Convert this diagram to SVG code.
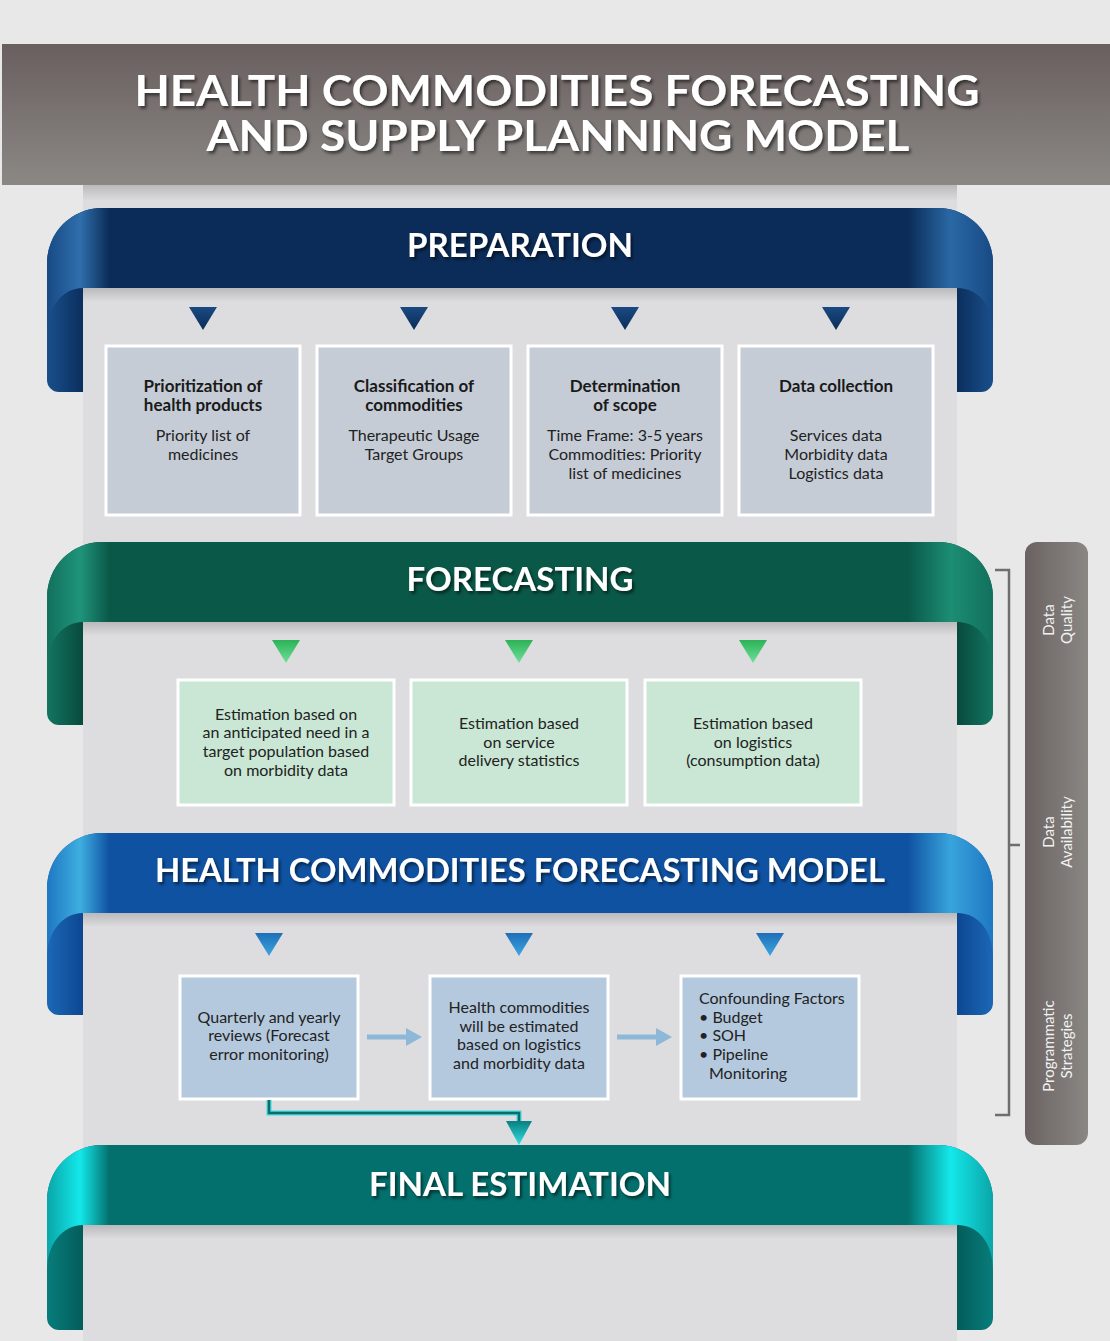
<svg xmlns="http://www.w3.org/2000/svg" width="1110" height="1341" viewBox="0 0 1110 1341">
<defs>
<style>
.ttl{font-family:Lato,"Open Sans","Liberation Sans",sans-serif;font-weight:700;fill:#fff;text-anchor:middle;}
.bt{font-family:Lato,"Open Sans","Liberation Sans",sans-serif;font-weight:700;font-size:17px;fill:#1a1a1a;text-anchor:middle;}
.bx{font-family:Lato,"Open Sans","Liberation Sans",sans-serif;font-size:16px;fill:#222;text-anchor:middle;}
.bl{font-family:Lato,"Open Sans","Liberation Sans",sans-serif;font-size:16px;fill:#222;text-anchor:start;}
.side{font-family:Lato,"Open Sans","Liberation Sans",sans-serif;font-size:15px;fill:#f2f2f2;text-anchor:middle;}
.prepbox{fill:#c5ccd6;stroke:#fff;stroke-width:3;}
.fcbox{fill:#c9e7d4;stroke:#fff;stroke-width:3;}
.hmbox{fill:#b4c9de;stroke:#fff;stroke-width:3;}
.brk{fill:none;stroke:#6e6e6e;stroke-width:2.5;}
</style>
<filter id="ts" x="-5%" y="-20%" width="110%" height="150%">
<feDropShadow dx="2" dy="2.5" stdDeviation="1.5" flood-color="#000" flood-opacity="0.55"/>
</filter>
<linearGradient id="hdr" x1="0" y1="0" x2="0" y2="1"><stop offset="0" stop-color="#695f5f"/><stop offset="1" stop-color="#8b8884"/></linearGradient>
<linearGradient id="sideg" x1="0" y1="0" x2="1" y2="0"><stop offset="0" stop-color="#6a6262"/><stop offset="1" stop-color="#8a8783"/></linearGradient>
<linearGradient id="shv" x1="0" y1="0" x2="0" y2="1"><stop offset="0" stop-color="#000" stop-opacity="0.16"/><stop offset="1" stop-color="#000" stop-opacity="0"/></linearGradient>
<linearGradient id="pF" x1="0" y1="0" x2="1" y2="0"><stop offset="0" stop-color="#174a85"/><stop offset="0.035" stop-color="#2f6fac"/><stop offset="0.066" stop-color="#0b2c58"/><stop offset="0.91" stop-color="#0b2c58"/><stop offset="0.955" stop-color="#2a68a4"/><stop offset="1" stop-color="#174a85"/></linearGradient>
<linearGradient id="pS" x1="0" y1="0" x2="1" y2="0"><stop offset="0" stop-color="#1a4f8b"/><stop offset="0.038" stop-color="#0b2f5e"/><stop offset="0.962" stop-color="#0b2f5e"/><stop offset="1" stop-color="#1a4f8b"/></linearGradient>
<linearGradient id="fF" x1="0" y1="0" x2="1" y2="0"><stop offset="0" stop-color="#12705d"/><stop offset="0.035" stop-color="#1f947a"/><stop offset="0.066" stop-color="#0a5848"/><stop offset="0.91" stop-color="#0a5848"/><stop offset="0.955" stop-color="#1c8d73"/><stop offset="1" stop-color="#12705d"/></linearGradient>
<linearGradient id="fS" x1="0" y1="0" x2="1" y2="0"><stop offset="0" stop-color="#137560"/><stop offset="0.038" stop-color="#084a3d"/><stop offset="0.962" stop-color="#084a3d"/><stop offset="1" stop-color="#137560"/></linearGradient>
<linearGradient id="hF" x1="0" y1="0" x2="1" y2="0"><stop offset="0" stop-color="#1f77c2"/><stop offset="0.035" stop-color="#3eaee0"/><stop offset="0.066" stop-color="#0f52a2"/><stop offset="0.91" stop-color="#0f52a2"/><stop offset="0.955" stop-color="#38a4dc"/><stop offset="1" stop-color="#1f77c2"/></linearGradient>
<linearGradient id="hS" x1="0" y1="0" x2="1" y2="0"><stop offset="0" stop-color="#1c68b6"/><stop offset="0.038" stop-color="#0c4792"/><stop offset="0.962" stop-color="#0c4792"/><stop offset="1" stop-color="#1c68b6"/></linearGradient>
<linearGradient id="eF" x1="0" y1="0" x2="1" y2="0"><stop offset="0" stop-color="#0aa5a8"/><stop offset="0.035" stop-color="#14e8ea"/><stop offset="0.066" stop-color="#03706d"/><stop offset="0.91" stop-color="#03706d"/><stop offset="0.955" stop-color="#14e8ea"/><stop offset="1" stop-color="#0aa5a8"/></linearGradient>
<linearGradient id="eS" x1="0" y1="0" x2="1" y2="0"><stop offset="0" stop-color="#077d7b"/><stop offset="0.038" stop-color="#035c5a"/><stop offset="0.962" stop-color="#035c5a"/><stop offset="1" stop-color="#077d7b"/></linearGradient>
<linearGradient id="tP" x1="0" y1="0" x2="0" y2="1"><stop offset="0" stop-color="#1a4a82"/><stop offset="1" stop-color="#0b2c58"/></linearGradient>
<linearGradient id="tF" x1="0" y1="0" x2="0" y2="1"><stop offset="0" stop-color="#2cb257"/><stop offset="1" stop-color="#6fe09a"/></linearGradient>
<linearGradient id="tH" x1="0" y1="0" x2="0" y2="1"><stop offset="0" stop-color="#1e6fb8"/><stop offset="1" stop-color="#3ea6e0"/></linearGradient>
<linearGradient id="tE" x1="0" y1="0" x2="0" y2="1"><stop offset="0" stop-color="#0a7f7f"/><stop offset="1" stop-color="#2fe0e4"/></linearGradient>
</defs>

<rect x="0" y="0" width="1110" height="1341" fill="#e8e8e8"/>
<g id="panel">
<rect x="83" y="185" width="874" height="1156" fill="#dddde0"/>
<rect x="83" y="185" width="874" height="16" fill="url(#shv)"/>
</g>

<g id="header">
<rect x="2" y="44" width="1108" height="141" fill="url(#hdr)"/>
<text class="ttl" x="557" y="106" font-size="42" textLength="845" lengthAdjust="spacingAndGlyphs" filter="url(#ts)">HEALTH COMMODITIES FORECASTING</text>
<text class="ttl" x="558" y="151" font-size="42" textLength="703" lengthAdjust="spacingAndGlyphs" filter="url(#ts)">AND SUPPLY PLANNING MODEL</text>
</g>

<g id="preparation">
<path d="M102,208 H938 A55 55 0 0 1 993,263 V380 A12 12 0 0 1 981,392 H957 V288 H83 V392 H59 A12 12 0 0 1 47,380 V263 A55 55 0 0 1 102,208 Z" fill="url(#pS)"/>
<path d="M47,333 V263 A55 55 0 0 1 102,208 H938 A55 55 0 0 1 993,263 V333 C993,308 980,288 957,288 H83 C62,288 47,308 47,333 Z" fill="url(#pF)"/>
<rect x="83" y="288" width="874" height="14" fill="url(#shv)"/>
<text class="ttl" x="520" y="257" font-size="32" textLength="226" lengthAdjust="spacingAndGlyphs" filter="url(#ts)">PREPARATION</text>
</g>

<g id="forecasting">
<path d="M102,542 H938 A55 55 0 0 1 993,597 V713 A12 12 0 0 1 981,725 H957 V622 H83 V725 H59 A12 12 0 0 1 47,713 V597 A55 55 0 0 1 102,542 Z" fill="url(#fS)"/>
<path d="M47,667 V597 A55 55 0 0 1 102,542 H938 A55 55 0 0 1 993,597 V667 C993,642 980,622 957,622 H83 C62,622 47,642 47,667 Z" fill="url(#fF)"/>
<rect x="83" y="622" width="874" height="14" fill="url(#shv)"/>
<text class="ttl" x="520" y="591" font-size="32" textLength="227" lengthAdjust="spacingAndGlyphs" filter="url(#ts)">FORECASTING</text>
</g>

<g id="hcfm">
<path d="M102,833 H938 A55 55 0 0 1 993,888 V1003 A12 12 0 0 1 981,1015 H957 V913 H83 V1015 H59 A12 12 0 0 1 47,1003 V888 A55 55 0 0 1 102,833 Z" fill="url(#hS)"/>
<path d="M47,958 V888 A55 55 0 0 1 102,833 H938 A55 55 0 0 1 993,888 V958 C993,933 980,913 957,913 H83 C62,913 47,933 47,958 Z" fill="url(#hF)"/>
<rect x="83" y="913" width="874" height="14" fill="url(#shv)"/>
<text class="ttl" x="520" y="882" font-size="33" textLength="730" lengthAdjust="spacingAndGlyphs" filter="url(#ts)">HEALTH COMMODITIES FORECASTING MODEL</text>
</g>

<g id="final">
<path d="M102,1145 H938 A55 55 0 0 1 993,1200 V1318 A12 12 0 0 1 981,1330 H957 V1225 H83 V1330 H59 A12 12 0 0 1 47,1318 V1200 A55 55 0 0 1 102,1145 Z" fill="url(#eS)"/>
<path d="M47,1270 V1200 A55 55 0 0 1 102,1145 H938 A55 55 0 0 1 993,1200 V1270 C993,1245 980,1225 957,1225 H83 C62,1225 47,1245 47,1270 Z" fill="url(#eF)"/>
<rect x="83" y="1225" width="874" height="14" fill="url(#shv)"/>
<text class="ttl" x="520" y="1196" font-size="32" textLength="302" lengthAdjust="spacingAndGlyphs" filter="url(#ts)">FINAL ESTIMATION</text>
</g>

<g id="prep1"><rect class="prepbox" x="106" y="346" width="194" height="169"/>
<text class="bt" x="203" y="392">Prioritization of</text><text class="bt" x="203" y="411">health products</text>
<text class="bx" x="203" y="441">Priority list of</text><text class="bx" x="203" y="460">medicines</text></g>
<g id="prep2"><rect class="prepbox" x="317" y="346" width="194" height="169"/>
<text class="bt" x="414" y="392">Classification of</text><text class="bt" x="414" y="411">commodities</text>
<text class="bx" x="414" y="441">Therapeutic Usage</text><text class="bx" x="414" y="460">Target Groups</text></g>
<g id="prep3"><rect class="prepbox" x="528" y="346" width="194" height="169"/>
<text class="bt" x="625" y="392">Determination</text><text class="bt" x="625" y="411">of scope</text>
<text class="bx" x="625" y="441">Time Frame: 3-5 years</text><text class="bx" x="625" y="460">Commodities: Priority</text><text class="bx" x="625" y="479">list of medicines</text></g>
<g id="prep4"><rect class="prepbox" x="739" y="346" width="194" height="169"/>
<text class="bt" x="836" y="392">Data collection</text>
<text class="bx" x="836" y="441">Services data</text><text class="bx" x="836" y="460">Morbidity data</text><text class="bx" x="836" y="479">Logistics data</text></g>

<g id="fc1"><rect class="fcbox" x="178" y="680" width="216" height="125"/>
<text class="bx" x="286" y="720">Estimation based on</text><text class="bx" x="286" y="738">an anticipated need in a</text><text class="bx" x="286" y="757">target population based</text><text class="bx" x="286" y="776">on morbidity data</text></g>
<g id="fc2"><rect class="fcbox" x="411" y="680" width="216" height="125"/>
<text class="bx" x="519" y="729">Estimation based</text><text class="bx" x="519" y="748">on service</text><text class="bx" x="519" y="766">delivery statistics</text></g>
<g id="fc3"><rect class="fcbox" x="645" y="680" width="216" height="125"/>
<text class="bx" x="753" y="729">Estimation based</text><text class="bx" x="753" y="748">on logistics</text><text class="bx" x="753" y="766">(consumption data)</text></g>

<g id="hm1"><rect class="hmbox" x="180" y="976" width="178" height="123"/>
<text class="bx" x="269" y="1023">Quarterly and yearly</text><text class="bx" x="269" y="1041">reviews (Forecast</text><text class="bx" x="269" y="1060">error monitoring)</text></g>
<g id="hm2"><rect class="hmbox" x="430" y="976" width="178" height="123"/>
<text class="bx" x="519" y="1013">Health commodities</text><text class="bx" x="519" y="1032">will be estimated</text><text class="bx" x="519" y="1050">based on logistics</text><text class="bx" x="519" y="1069">and morbidity data</text></g>
<g id="hm3"><rect class="hmbox" x="681" y="976" width="178" height="123"/>
<text class="bl" x="699" y="1004">Confounding Factors</text>
<text class="bl" x="699" y="1023">• Budget</text>
<text class="bl" x="699" y="1041">• SOH</text>
<text class="bl" x="699" y="1060">• Pipeline</text>
<text class="bl" x="709" y="1079">Monitoring</text></g>

<g id="sidebar">
<rect x="1025" y="542" width="63" height="603" rx="12" fill="url(#sideg)"/>
<text class="side" transform="translate(1058,620) rotate(-90)"><tspan x="0" y="-4">Data</tspan><tspan x="0" y="14">Quality</tspan></text>
<text class="side" transform="translate(1058,832) rotate(-90)"><tspan x="0" y="-4">Data</tspan><tspan x="0" y="14">Availability</tspan></text>
<text class="side" transform="translate(1058,1046) rotate(-90)"><tspan x="0" y="-4">Programmatic</tspan><tspan x="0" y="14">Strategies</tspan></text>
</g>

<g id="connectors">
<polygon points="189,307 217,307 203,330" fill="url(#tP)"/>
<polygon points="400,307 428,307 414,330" fill="url(#tP)"/>
<polygon points="611,307 639,307 625,330" fill="url(#tP)"/>
<polygon points="822,307 850,307 836,330" fill="url(#tP)"/>
<polygon points="272,640 300,640 286,663" fill="url(#tF)"/>
<polygon points="505,640 533,640 519,663" fill="url(#tF)"/>
<polygon points="739,640 767,640 753,663" fill="url(#tF)"/>
<polygon points="255,933 283,933 269,956" fill="url(#tH)"/>
<polygon points="505,933 533,933 519,956" fill="url(#tH)"/>
<polygon points="756,933 784,933 770,956" fill="url(#tH)"/>
<path d="M367,1037 H408" stroke="#8db8d8" stroke-width="5" fill="none"/>
<polygon points="406,1028 422,1037 406,1046" fill="#8db8d8"/>
<path d="M617,1037 H658" stroke="#8db8d8" stroke-width="5" fill="none"/>
<polygon points="656,1028 672,1037 656,1046" fill="#8db8d8"/>
<path d="M269,1100 V1113 H519 V1122" stroke="#45d6da" stroke-width="5" fill="none"/>
<path d="M269,1100 V1113 H519 V1122" stroke="#0a6e6e" stroke-width="2.5" fill="none"/>
<polygon points="506,1121 532,1121 519,1145" fill="url(#tE)"/>
<path class="brk" d="M995,570 H1009 V1115 H995 M1009,845 H1020"/>
</g>
</svg>
